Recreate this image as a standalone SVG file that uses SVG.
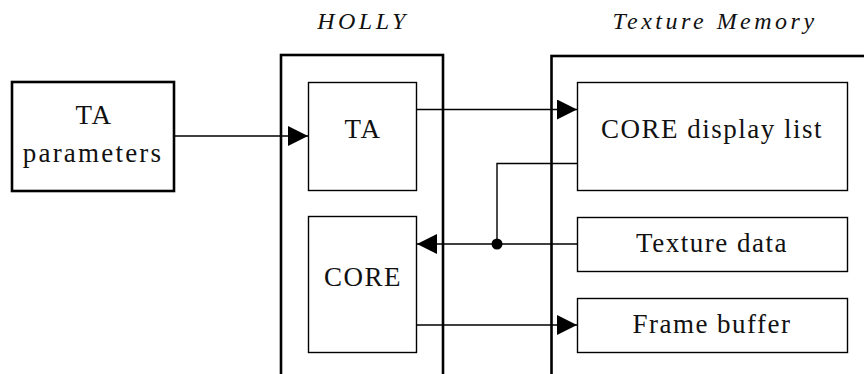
<svg xmlns="http://www.w3.org/2000/svg" width="864" height="374" viewBox="0 0 864 374">
<defs>
<style>
.outer{fill:none;stroke:#000;stroke-width:2.6}
.inner{fill:#fff;stroke:#000;stroke-width:1.4}
.t{font-family:"Liberation Serif","Times New Roman",serif;font-size:27px;letter-spacing:1.5px;text-anchor:middle;fill:#111}
.title{font-family:"Liberation Serif","Times New Roman",serif;font-style:italic;font-size:24px;letter-spacing:3.5px;text-anchor:middle;fill:#111}
.c{fill:none;stroke:#000;stroke-width:1.4}
</style>
<marker id="ah" viewBox="0 0 20 20" markerWidth="20" markerHeight="20" refX="20" refY="10" orient="auto" markerUnits="userSpaceOnUse">
<path d="M0,0 L20,10 L0,20 Z" fill="#000"/>
</marker>
</defs>
<rect width="864" height="374" fill="#fff"/>
<g id="holly">
<rect class="outer" x="281" y="55" width="162" height="330"/>
<text class="title" x="363" y="29">HOLLY</text>
</g>
<g id="texture-memory">
<rect class="outer" x="551.5" y="56" width="330" height="330"/>
<text class="title" x="715" y="29">Texture Memory</text>
</g>
<g id="ta-parameters">
<rect class="outer" x="12" y="82" width="162" height="109"/>
<text class="t" x="94" y="124">TA</text>
<text class="t" x="93" y="162" style="letter-spacing:2.2px">parameters</text>
</g>
<g id="ta">
<rect class="inner" x="308.5" y="82.5" width="108" height="108"/>
<text class="t" x="363" y="138">TA</text>
</g>
<g id="core">
<rect class="inner" x="308.5" y="216.5" width="108" height="136"/>
<text class="t" x="363" y="286">CORE</text>
</g>
<g id="core-display-list">
<rect class="inner" x="577.5" y="82.5" width="270" height="108"/>
<text class="t" x="712" y="138">CORE display list</text>
</g>
<g id="texture-data">
<rect class="inner" x="577.5" y="217.5" width="270" height="54"/>
<text class="t" x="712" y="252">Texture data</text>
</g>
<g id="frame-buffer">
<rect class="inner" x="577.5" y="298.5" width="270" height="54"/>
<text class="t" x="712" y="333">Frame buffer</text>
</g>
<g id="connectors">
<line class="c" x1="174" y1="136" x2="308" y2="136" marker-end="url(#ah)"/>
<line class="c" x1="416.5" y1="109.5" x2="577" y2="109.5" marker-end="url(#ah)"/>
<polyline class="c" points="577,163.5 497,163.5 497,244"/>
<line class="c" x1="577" y1="244" x2="417" y2="244" marker-end="url(#ah)"/>
<circle cx="497" cy="244" r="5.5" fill="#000"/>
<line class="c" x1="416.5" y1="325" x2="577" y2="325" marker-end="url(#ah)"/>
</g>
</svg>
